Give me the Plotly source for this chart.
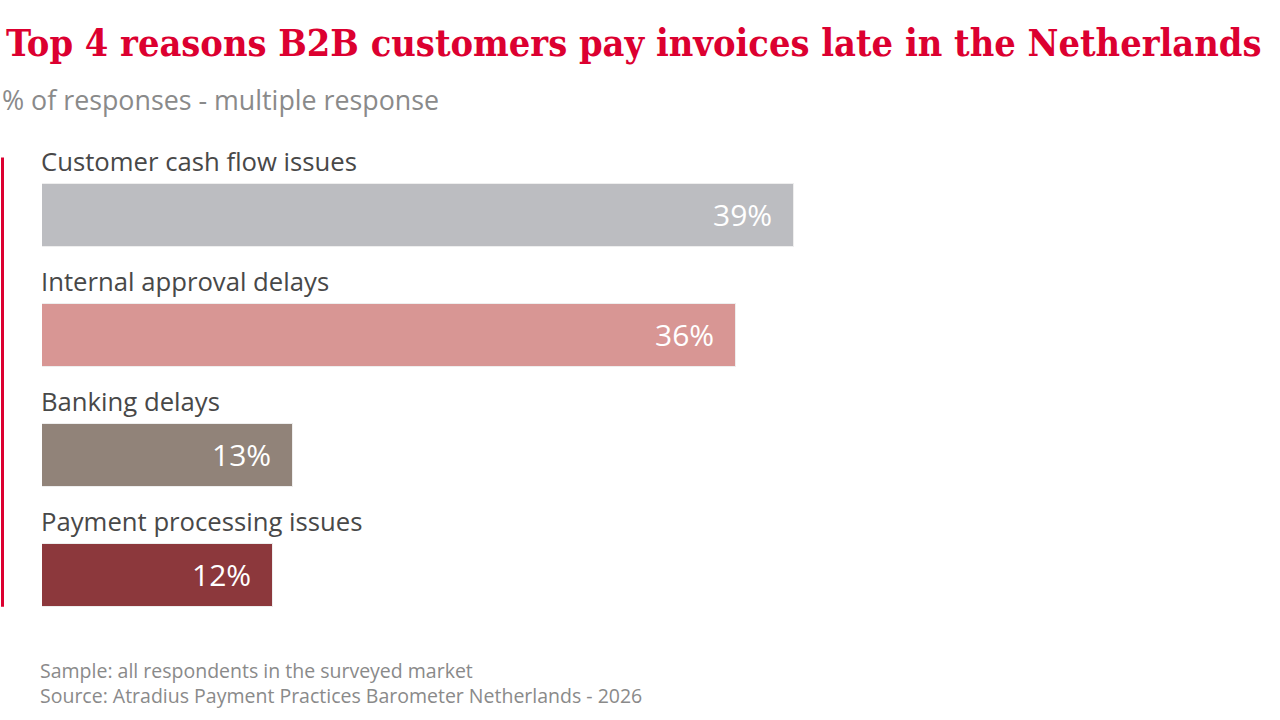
import plotly.graph_objects as go

# --- data ---
reasons = ["Customer cash flow issues", "Internal approval delays",
           "Banking delays", "Payment processing issues"]
shares = [39, 36, 13, 12]
bar_colors = ["#bcbdc1", "#d89694", "#918379", "#8c383c"]

RED = "#dc0030"
GREY = "#8a8a8a"
SANS = "Open Sans, Noto Sans, sans-serif"

fig = go.Figure()
fig.add_trace(go.Bar(
    y=reasons, x=shares, orientation="h", width=0.525,
    marker=dict(color=bar_colors, line=dict(color="#eeeeee", width=1)),
    hoverinfo="x+y", showlegend=False,
))

# category labels above bars, value labels inside bar end
for r, v in zip(reasons, shares):
    fig.add_annotation(x=0, y=r, text=r, showarrow=False, xanchor="left",
                       yanchor="middle", yshift=54, xshift=-3,
                       font=dict(family=SANS, size=25.7, color="#484848"))
    fig.add_annotation(x=v, y=r, text=f"{v}%", showarrow=False, xanchor="right",
                       yanchor="middle", xshift=-20, yshift=1,
                       font=dict(family=SANS, size=30, color="white"))

# red accent line on the left
fig.add_shape(type="line", xref="paper", yref="paper",
              x0=-39.5 / 1238, x1=-39.5 / 1238, y0=0.059, y1=0.997,
              line=dict(color=RED, width=3))

fig.add_annotation(xref="paper", yref="paper", x=-38 / 1238, y=1 + 113 / 480,
                   xanchor="left", yanchor="middle", showarrow=False,
                   text="<b>Top 4 reasons B2B customers pay invoices late in the Netherlands</b>",
                   font=dict(family="DejaVu Serif Condensed, DejaVu Serif, serif",
                             size=37.6, color=RED))
fig.add_annotation(xref="paper", yref="paper", x=-42 / 1238, y=1 + (155.5 - 99) / 480,
                   xanchor="left", yanchor="middle", showarrow=False,
                   text="% of responses - multiple response",
                   font=dict(family=SANS, size=26.8, color=GREY))
fig.add_annotation(xref="paper", yref="paper", x=-4 / 1238, y=-(683.5 - 635.5) / 480,
                   xanchor="left", yanchor="middle", align="left", showarrow=False,
                   text="Sample: all respondents in the surveyed market<br>"
                        "Source: Atradius Payment Practices Barometer Netherlands - 2026",
                   font=dict(family=SANS, size=19.5, color=GREY))

fig.update_xaxes(range=[0, 1238 / (752 / 39)], visible=False, fixedrange=True)
fig.update_yaxes(categoryorder="array", categoryarray=reasons, autorange=False,
                 range=[3.5, -0.5], visible=False, fixedrange=True)
fig.update_layout(width=1280, height=720, plot_bgcolor="white", paper_bgcolor="white",
                  margin=dict(l=42, r=0, t=155.5, b=84.5), bargap=0)

fig.write_html("out.html", config={"displayModeBar": False},
               post_script="document.body.style.margin='0';")
